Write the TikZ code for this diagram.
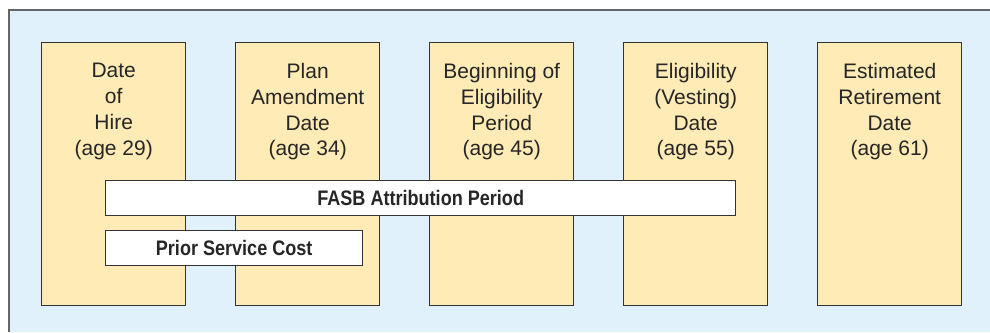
\documentclass[tikz,border=0pt]{standalone}
\usepackage{fontspec}
\setmainfont{Liberation Sans}
\newfontfamily\barfont{Liberation Sans}[FakeStretch=0.86]
\usetikzlibrary{positioning}
\definecolor{panelblue}{HTML}{E0F1FB}
\definecolor{dateyellow}{HTML}{FEEBB5}
\definecolor{edgegray}{HTML}{333333}

\begin{document}
\begin{tikzpicture}[x=0.5pt, y=-0.5pt,
  datebox/.style={draw=edgegray, line width=0.7pt, fill=dateyellow, minimum width=72pt, minimum height=131.5pt, inner sep=0pt, anchor=north west},
  datetxt/.style={align=center, inner sep=0pt, text=black!85, font=\fontsize{10.5}{12.9}\selectfont},
  periodbar/.style={draw=edgegray, line width=0.7pt, fill=white, minimum height=17.5pt, inner sep=0pt, anchor=north west, text=black!85, font=\barfont\bfseries\fontsize{10.5}{12}\selectfont}
]
\useasboundingbox (0,0) rectangle (990,332);

% panel
\fill[panelblue] (9,10) rectangle (990,332);
\draw[edgegray!75, line width=0.8pt] (9,332) -- (9,10) -- (990,10);

% date columns
\node[datebox] (hire) at (41,42) {};
\node[datebox] (amend) at (235,42) {};
\node[datebox] (begin) at (429,42) {};
\node[datebox] (vest) at (623,42) {};
\node[datebox] (retire) at (817,42) {};

\node[datetxt, below=10.4pt of hire.north] (hiretxt) {Date\\of\\Hire\\(age 29)};
\node[datetxt, below=10.4pt of amend.north] (amendtxt) {Plan\\Amendment\\Date\\(age 34)};
\node[datetxt, below=10.4pt of begin.north] (begintxt) {Beginning of\\Eligibility\\Period\\(age 45)};
\node[datetxt, below=10.4pt of vest.north] (vesttxt) {Eligibility\\(Vesting)\\Date\\(age 55)};
\node[datetxt, below=10.4pt of retire.north] (retiretxt) {Estimated\\Retirement\\Date\\(age 61)};

% periods
\node[periodbar, minimum width=315pt] (fasb) at (105,180) {FASB Attribution Period};
\node[periodbar, minimum width=128.5pt] (prior) at (105,230) {Prior Service Cost};

\end{tikzpicture}
\end{document}
